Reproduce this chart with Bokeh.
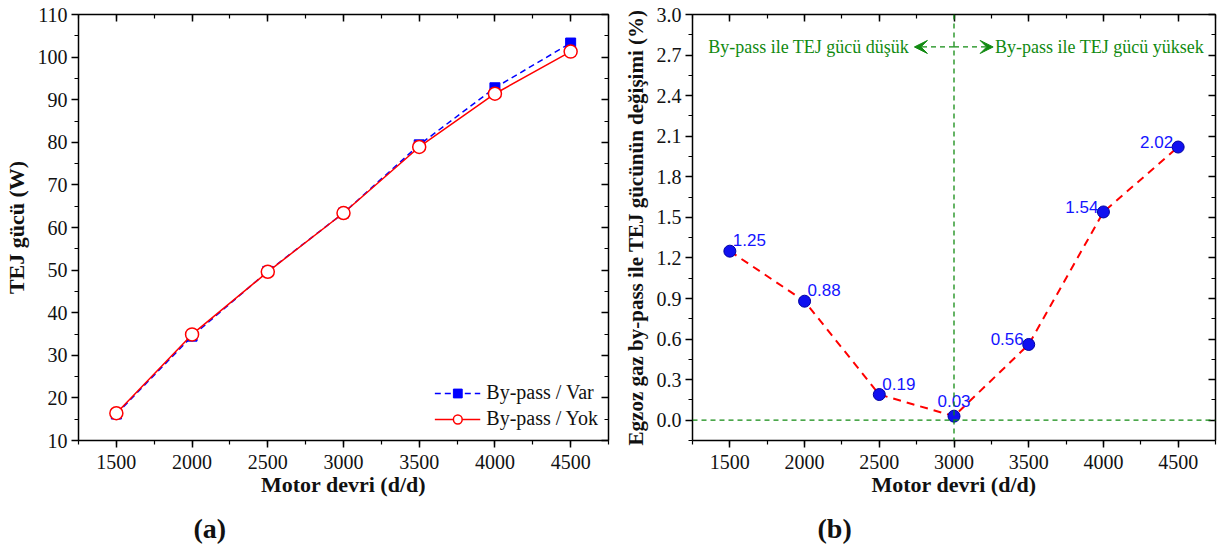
from bokeh.plotting import figure
from bokeh.layouts import row
from bokeh.models import (LinearAxis, SingleIntervalTicker, Range1d, Span, Arrow, VeeHead,
                          Label, Legend, LegendItem, CustomJSTickFormatter, ColumnDataSource,
                          NumeralTickFormatter, Title)
from bokeh.core.properties import value
from bokeh.embed import file_html
from bokeh.resources import INLINE

# ---------------- data ----------------
rpm = [1500, 2000, 2500, 3000, 3500, 4000, 4500]
power_var = [16.2, 34.5, 49.7, 63.4, 79.4, 92.8, 103.3]   # By-pass / Var
power_yok = [16.4, 34.9, 49.6, 63.4, 78.9, 91.4, 101.3]   # By-pass / Yok
change_pct = [1.25, 0.88, 0.19, 0.03, 0.56, 1.54, 2.02]
change_lbl = ["1.25", "0.88", "0.19", "0.03", "0.56", "1.54", "2.02"]
legend_labels = ["By-pass / Var", "By-pass / Yok"]
note_low = "By-pass ile TEJ gücü düşük"
note_high = "By-pass ile TEJ gücü yüksek"

SERIF = "Liberation Serif"
SANS = "Liberation Sans"
GREEN = "#118a11"


def style(p, xint, yint, yfmt=None, ytitle_size="22px"):
    p.xgrid.visible = False
    p.ygrid.visible = False
    p.outline_line_color = None
    p.background_fill_color = "white"
    p.border_fill_color = "white"
    for ax in (p.xaxis[0], p.yaxis[0]):
        ax.axis_line_width = 1.5
        ax.major_tick_line_width = 1.5
        ax.minor_tick_line_width = 1.2
        ax.major_tick_out = 7
        ax.major_tick_in = 0
        ax.minor_tick_out = 4
        ax.minor_tick_in = 0
        ax.major_label_text_font = SERIF
        ax.major_label_text_font_size = "20px"
        ax.major_label_text_color = "#111111"
        ax.axis_label_text_font = SERIF
        ax.axis_label_text_font_size = "22px"
        ax.axis_label_text_font_style = "bold"
        ax.axis_label_text_color = "#111111"
        ax.major_label_standoff = 4
    p.xaxis[0].major_label_standoff = 7
    p.yaxis[0].axis_label_text_font_size = ytitle_size
    p.xaxis[0].ticker = SingleIntervalTicker(interval=xint, num_minor_ticks=2)
    p.yaxis[0].ticker = SingleIntervalTicker(interval=yint, num_minor_ticks=2)
    if yfmt:
        p.yaxis[0].formatter = NumeralTickFormatter(format=yfmt)
    p.xaxis[0].axis_label_standoff = 0
    p.yaxis[0].axis_label_standoff = 6
    # mirrored axes with inward ticks
    for loc, interval in (("above", xint), ("right", yint)):
        ax = LinearAxis(ticker=SingleIntervalTicker(interval=interval, num_minor_ticks=2),
                        formatter=CustomJSTickFormatter(code="return ''"))
        ax.axis_line_width = 1.5
        ax.major_tick_line_width = 1.5
        ax.minor_tick_line_width = 1.2
        ax.major_tick_out = 0
        ax.major_tick_in = 7
        ax.minor_tick_out = 0
        ax.minor_tick_in = 4
        ax.major_label_standoff = 0
        ax.major_label_text_font_size = "1px"
        p.add_layout(ax, loc)


def panel_title(p, text, offset):
    t = Title(text=text, align="left", offset=offset, standoff=23,
              text_font=SERIF, text_font_size="28px", text_font_style="bold",
              text_color="#111111")
    p.add_layout(t, "below")


# ---------------- (a) ----------------
p1 = figure(width=620, height=556, output_backend="svg", toolbar_location=None,
            x_range=Range1d(1250, 4750), y_range=Range1d(10, 110),
            min_border_left=76, min_border_right=12, min_border_top=10, min_border_bottom=116)
p1.xaxis.axis_label = "Motor devri (d/d)"
p1.yaxis.axis_label = "TEJ gücü (W)"
style(p1, 500, 10)

src = ColumnDataSource(dict(x=rpm, var=power_var, yok=power_yok))
l1 = p1.line("x", "var", source=src, line_color="#0000ff", line_width=1.5, line_dash="6 4")
m1 = p1.scatter("x", "var", source=src, marker="square", size=10, fill_color="#0000ff",
                line_color="#0000ff")
l2 = p1.line("x", "yok", source=src, line_color="#ff0000", line_width=1.5)
m2 = p1.scatter("x", "yok", source=src, marker="circle", size=13, fill_color="white",
                line_color="#ff0000", line_width=1.5)

legend = Legend(items=[LegendItem(label=legend_labels[0], renderers=[l1, m1]),
                       LegendItem(label=legend_labels[1], renderers=[l2, m2])],
                location="bottom_right")
legend.border_line_color = None
legend.background_fill_alpha = 0
legend.label_text_font = SERIF
legend.label_text_font_size = "20px"
legend.label_text_color = "#111111"
legend.glyph_width = 46
legend.glyph_height = 22
legend.spacing = 3
legend.padding = 2
legend.margin = 10
legend.label_standoff = 6
p1.add_layout(legend, "center")
panel_title(p1, "(a)", 115)

# ---------------- (b) ----------------
p2 = figure(width=597, height=556, output_backend="svg", toolbar_location=None,
            x_range=Range1d(1250, 4750), y_range=Range1d(-0.15, 3.0),
            min_border_left=67, min_border_right=2, min_border_top=14, min_border_bottom=116)
p2.xaxis.axis_label = "Motor devri (d/d)"
p2.yaxis.axis_label = "Egzoz gaz by-pass ile TEJ gücünün değişimi (%)"
style(p2, 500, 0.3, "0.0", ytitle_size="21px")

p2.add_layout(Span(location=0, dimension="width", line_color=GREEN, line_width=1.3,
                   line_dash="5 4"))
p2.add_layout(Span(location=3000, dimension="height", line_color=GREEN, line_width=1.3,
                   line_dash="5 4"))

ARROW_Y = 2.76
p2.add_layout(Arrow(x_start=3000, y_start=ARROW_Y, x_end=2735, y_end=ARROW_Y,
                    line_color=GREEN, line_width=1.3, line_dash="5 4",
                    end=VeeHead(size=13, fill_color=GREEN, line_color=GREEN)))
p2.add_layout(Arrow(x_start=3000, y_start=ARROW_Y, x_end=3262, y_end=ARROW_Y,
                    line_color=GREEN, line_width=1.3, line_dash="5 4",
                    end=VeeHead(size=13, fill_color=GREEN, line_color=GREEN)))
p2.add_layout(Label(x=2700, y=ARROW_Y, text=note_low, text_font=SERIF, text_font_size="18px",
                    text_color=GREEN, text_align="right", text_baseline="middle"))
p2.add_layout(Label(x=3275, y=ARROW_Y, text=note_high, text_font=SERIF, text_font_size="18px",
                    text_color=GREEN, text_align="left", text_baseline="middle"))

src2 = ColumnDataSource(dict(x=rpm, y=change_pct, t=change_lbl))
p2.line("x", "y", source=src2, line_color="#ff0000", line_width=2, line_dash="8 6")
p2.scatter("x", "y", source=src2, marker="circle", size=12, fill_color="#1010f0",
           line_color="#0000a0", line_width=1)

# data labels: left group (above-right), middle (above-centre), right group (left)
lab_l = ColumnDataSource(dict(x=rpm[:3], y=change_pct[:3], t=change_lbl[:3]))
lab_m = ColumnDataSource(dict(x=rpm[3:4], y=change_pct[3:4], t=change_lbl[3:4]))
lab_r = ColumnDataSource(dict(x=rpm[4:], y=change_pct[4:], t=change_lbl[4:]))
for s, align, xo, yo in ((lab_l, "left", 3, -5), (lab_m, "center", 0, -9),
                         (lab_r, "right", -5, 1)):
    p2.text("x", "y", text="t", source=s, text_font=value(SANS), text_font_size="17px",
            text_color="#1414ff", text_align=align, text_baseline="bottom",
            x_offset=xo, y_offset=yo)
panel_title(p2, "(b)", 125)

layout = row(p1, p2)
open("out.html", "w").write(file_html(layout, INLINE))
